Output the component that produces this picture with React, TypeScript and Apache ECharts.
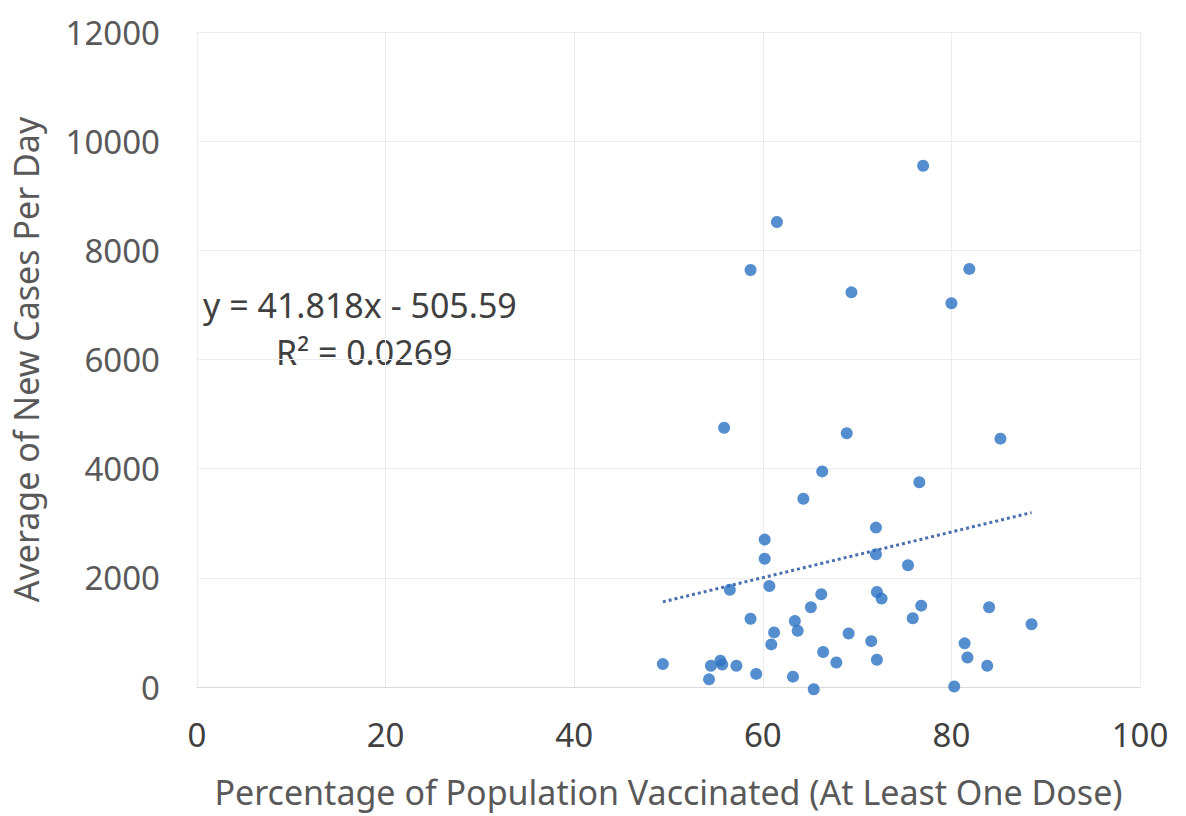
import React, { useEffect, useRef } from "react";
import * as echarts from "echarts";

const vaccinatedPct: number[] = [
  55.9, 68.9, 85.2, 66.3, 76.6, 64.3, 72.0, 60.2, 60.2, 72.0,
  75.4, 56.5, 60.7, 66.2, 72.1, 72.6, 65.1, 76.8, 84.0, 58.7,
  63.4, 63.7, 75.9, 88.5, 61.2, 60.9, 69.1, 71.5, 81.4, 66.4,
  67.8, 72.1, 81.7, 83.8, 49.4, 54.5, 55.5, 55.7, 57.2, 59.3,
  63.2, 54.3, 65.4, 80.3, 77.0, 61.5, 58.7, 69.4, 81.9, 80.0,
];
const casesPerDay: number[] = [
  4750, 4650, 4550, 3950, 3750, 3450, 2920, 2700, 2350, 2430,
  2230, 1780, 1850, 1700, 1740, 1620, 1460, 1490, 1460, 1250,
  1210, 1030, 1260, 1150, 1000, 780, 980, 840, 800, 640,
  450, 500, 540, 390, 420, 390, 480, 410, 390, 240,
  190, 140, -40, 10, 9550, 8520, 7640, 7230, 7660, 7030,
];
const trendSlope = 41.818;
const trendIntercept = -505.59;
const xTicks = { min: 0, max: 100, interval: 20 };
const yTicks = { min: 0, max: 12000, interval: 2000 };
const xTitle = "Percentage of Population Vaccinated (At Least One Dose)";
const yTitle = "Average of New Cases Per Day";
const eqLine1 = "y = 41.818x - 505.59";
const eqLine2 = "R² = 0.0269";

export default function App() {
  const ref = useRef<HTMLDivElement>(null);
  useEffect(() => {
    if (!ref.current) return;
    const chart = echarts.init(ref.current, undefined, { renderer: "svg" });
    const points = vaccinatedPct.map((x, i) => [x, casesPerDay[i]]);
    const xMin = Math.min(...vaccinatedPct);
    const xMax = Math.max(...vaccinatedPct);
    const trend = [
      [xMin, trendSlope * xMin + trendIntercept],
      [xMax, trendSlope * xMax + trendIntercept],
    ];
    const font = "'Noto Sans', 'Open Sans', sans-serif";
    chart.setOption({
      animation: false,
      backgroundColor: "#ffffff",
      grid: { left: 197, right: 46, top: 32, bottom: 129 },
      xAxis: {
        type: "value",
        min: xTicks.min,
        max: xTicks.max,
        interval: xTicks.interval,
        name: xTitle,
        nameLocation: "middle",
        nameGap: 88,
        nameTextStyle: { fontSize: 34, color: "#595959", fontFamily: font },
        axisLine: { show: true, lineStyle: { color: "#d9d9d9", width: 1 } },
        axisTick: { show: false },
        axisLabel: {
          fontSize: 33,
          color: "#404040",
          margin: 31,
          fontFamily: font,
          formatter: (v: number) => String(v),
        },
        splitLine: { show: true, lineStyle: { color: "#ececec", width: 1 } },
      },
      yAxis: {
        type: "value",
        min: yTicks.min,
        max: yTicks.max,
        interval: yTicks.interval,
        name: yTitle,
        nameLocation: "middle",
        nameGap: 154,
        nameTextStyle: { fontSize: 34, color: "#595959", fontFamily: font },
        axisLine: { show: false },
        axisTick: { show: false },
        axisLabel: {
          fontSize: 33,
          color: "#595959",
          margin: 37,
          fontFamily: font,
          formatter: (v: number) => String(v),
        },
        splitLine: { show: true, lineStyle: { color: "#ececec", width: 1 } },
      },
      graphic: [
        {
          type: "text",
          x: 203,
          y: 305,
          style: {
            text: eqLine1,
            fontSize: 34,
            fill: "#404040",
            fontFamily: font,
            verticalAlign: "middle",
          },
        },
        {
          type: "text",
          x: 276,
          y: 352,
          style: {
            text: eqLine2,
            fontSize: 34,
            fill: "#404040",
            fontFamily: font,
            verticalAlign: "middle",
          },
        },
      ],
      series: [
        {
          type: "line",
          data: trend,
          symbol: "none",
          lineStyle: { type: "dotted", width: 3, color: "#4a6fae" },
          z: 1,
        },
        {
          type: "scatter",
          data: points,
          symbolSize: 12,
          clip: false,
          itemStyle: { color: "#2b72c3" },
          z: 2,
        },
      ],
    });
    return () => chart.dispose();
  }, []);
  return (
    <div
      ref={ref}
      style={{ position: "fixed", left: 0, top: 0, width: 1186, height: 816 }}
    />
  );
}
